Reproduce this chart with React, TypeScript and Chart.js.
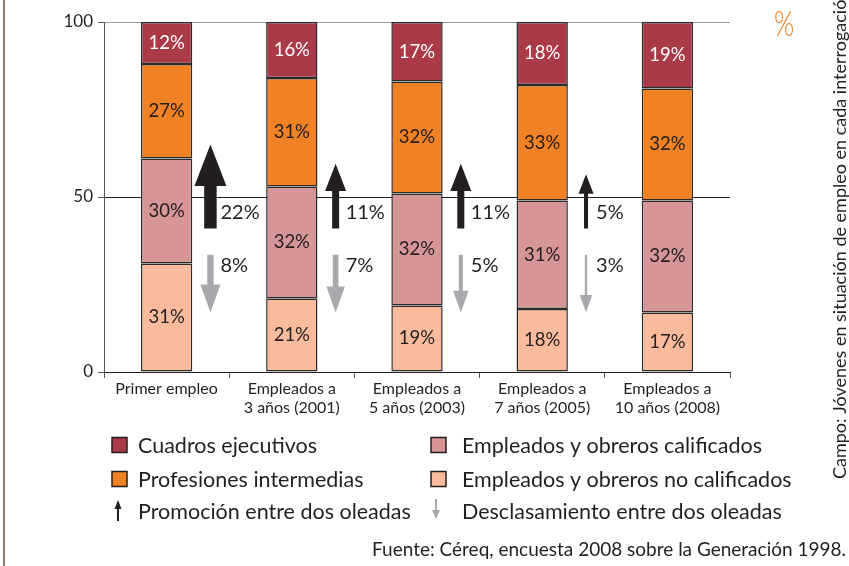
import React, { useEffect, useRef } from "react";
import { Chart, registerables } from "chart.js";

Chart.register(...registerables);

const FONT = "Lato, 'Noto Sans', sans-serif";

const categories: string[][] = [
  ["Primer empleo"],
  ["Empleados a", "3 años (2001)"],
  ["Empleados a", "5 años (2003)"],
  ["Empleados a", "7 años (2005)"],
  ["Empleados a", "10 años (2008)"],
];

const noCalificados = [31, 21, 19, 18, 17];
const calificados = [30, 32, 32, 31, 32];
const intermedias = [27, 31, 32, 33, 32];
const ejecutivos = [12, 16, 17, 18, 19];

const promocion = [22, 11, 11, 5];
const desclasamiento = [8, 7, 5, 3];

const yTicks = [0, 50, 100];

const seriesLabels = [
  "Empleados y obreros no calificados",
  "Empleados y obreros calificados",
  "Profesiones intermedias",
  "Cuadros ejecutivos",
];
const seriesColors = ["#f9bb9b", "#d69597", "#f08125", "#aa3a48"];
const labelColors = ["#231f20", "#231f20", "#231f20", "#ffffff"];

const promoLabel = "Promoción entre dos oleadas";
const desclLabel = "Desclasamiento entre dos oleadas";
const sourceText = "Fuente: Céreq, encuesta 2008 sobre la Generación 1998.";
const sideText = "Campo: Jóvenes en situación de empleo en cada interrogación";
const unitText = "%";

const UP_COLOR = "#231f20";
const DOWN_COLOR = "#a7a9ac";
const TEXT = "#231f20";

function upArrow(ctx: CanvasRenderingContext2D, cx: number, yBase: number, yTip: number, shaftW: number, headW: number, headL: number, color: string) {
  ctx.save();
  ctx.fillStyle = color;
  ctx.beginPath();
  ctx.moveTo(cx - shaftW / 2, yBase);
  ctx.lineTo(cx - shaftW / 2, yTip + headL);
  ctx.lineTo(cx - headW / 2, yTip + headL);
  ctx.lineTo(cx, yTip);
  ctx.lineTo(cx + headW / 2, yTip + headL);
  ctx.lineTo(cx + shaftW / 2, yTip + headL);
  ctx.lineTo(cx + shaftW / 2, yBase);
  ctx.closePath();
  ctx.fill();
  ctx.restore();
}

function downArrow(ctx: CanvasRenderingContext2D, cx: number, yTop: number, yTip: number, shaftW: number, headW: number, headL: number, color: string) {
  ctx.save();
  ctx.fillStyle = color;
  ctx.beginPath();
  ctx.moveTo(cx - shaftW / 2, yTop);
  ctx.lineTo(cx - shaftW / 2, yTip - headL);
  ctx.lineTo(cx - headW / 2, yTip - headL);
  ctx.lineTo(cx, yTip);
  ctx.lineTo(cx + headW / 2, yTip - headL);
  ctx.lineTo(cx + shaftW / 2, yTip - headL);
  ctx.lineTo(cx + shaftW / 2, yTop);
  ctx.closePath();
  ctx.fill();
  ctx.restore();
}

const decorPlugin = {
  id: "decor",
  beforeDraw(chart: any) {
    const ctx = chart.ctx as CanvasRenderingContext2D;
    ctx.save();
    ctx.fillStyle = "#ffffff";
    ctx.fillRect(0, 0, chart.width, chart.height);
    ctx.restore();
  },
  afterDatasetsDraw(chart: any) {
    const ctx = chart.ctx as CanvasRenderingContext2D;
    const xs = chart.scales.x;
    const ys = chart.scales.y;

    // segment labels
    chart.data.datasets.forEach((ds: any, di: number) => {
      const meta = chart.getDatasetMeta(di);
      meta.data.forEach((el: any, i: number) => {
        const p = el.getProps(["x", "y", "base"], true);
        ctx.save();
        ctx.font = `18.5px ${FONT}`;
        ctx.fillStyle = labelColors[di];
        ctx.textAlign = "center";
        ctx.textBaseline = "middle";
        ctx.fillText(ds.data[i] + "%", p.x, (p.y + p.base) / 2);
        ctx.restore();
      });
    });

    // promotion / declassing arrows between waves
    promocion.forEach((v, i) => {
      const cx = xs.getPixelForValue(i + 0.35);
      const yBase = ys.getPixelForValue(41);
      const yTip = ys.getPixelForValue(54 + v * 0.5);
      const shaftW = 1.5 + v * 0.5;
      const headW = 10 + v;
      upArrow(ctx, cx, yBase, yTip, shaftW, headW, headW * 1.3, UP_COLOR);
      ctx.save();
      ctx.font = `20px ${FONT}`;
      ctx.fillStyle = TEXT;
      ctx.textAlign = "left";
      ctx.textBaseline = "middle";
      ctx.fillText(v + "%", xs.getPixelForValue(i + 0.43), ys.getPixelForValue(45.5));
      ctx.restore();
    });
    desclasamiento.forEach((v, i) => {
      const cx = xs.getPixelForValue(i + 0.35);
      const yTop = ys.getPixelForValue(33.5);
      const yTip = ys.getPixelForValue(17);
      const shaftW = v * 0.8;
      const headW = 8 + v * 1.5;
      downArrow(ctx, cx, yTop, yTip, shaftW, headW, headW * 1.4, DOWN_COLOR);
      ctx.save();
      ctx.font = `20px ${FONT}`;
      ctx.fillStyle = TEXT;
      ctx.textAlign = "left";
      ctx.textBaseline = "middle";
      ctx.fillText(v + "%", xs.getPixelForValue(i + 0.43), ys.getPixelForValue(30.5));
      ctx.restore();
    });
  },
  afterDraw(chart: any) {
    const ctx = chart.ctx as CanvasRenderingContext2D;
    const H = chart.height;

    // left frame line
    ctx.save();
    ctx.fillStyle = "#8c7b70";
    ctx.fillRect(3, 0, 2, H);
    ctx.restore();

    // legend
    const rows = [445, 479, 511];
    const col1 = 112;
    const col2 = 431;
    const sq = 15;
    const items = [
      { col: col1, row: 0, color: seriesColors[3], label: seriesLabels[3], dx: 26 },
      { col: col2, row: 0, color: seriesColors[1], label: seriesLabels[1], dx: 31 },
      { col: col1, row: 1, color: seriesColors[2], label: seriesLabels[2], dx: 26 },
      { col: col2, row: 1, color: seriesColors[0], label: seriesLabels[0], dx: 31 },
    ];
    ctx.save();
    ctx.font = `21.5px ${FONT}`;
    ctx.textBaseline = "middle";
    ctx.textAlign = "left";
    items.forEach((it) => {
      const cy = rows[it.row];
      ctx.fillStyle = it.color;
      ctx.fillRect(it.col, cy - sq / 2, sq, sq);
      ctx.strokeStyle = TEXT;
      ctx.lineWidth = 1.5;
      ctx.strokeRect(it.col, cy - sq / 2, sq, sq);
      ctx.fillStyle = TEXT;
      ctx.fillText(it.label, it.col + it.dx, cy + 1);
    });
    // arrow legend entries
    upArrow(ctx, col1 + 6, rows[2] + 10, rows[2] - 11, 2, 7, 9, UP_COLOR);
    downArrow(ctx, col2 + 5, rows[2] - 12, rows[2] + 8, 2, 8, 9, DOWN_COLOR);
    ctx.fillStyle = TEXT;
    ctx.fillText(promoLabel, col1 + 26, rows[2] + 1);
    ctx.fillText(desclLabel, col2 + 31, rows[2] + 1);

    // source
    ctx.font = `19px ${FONT}`;
    ctx.textAlign = "right";
    ctx.fillText(sourceText, 846, 550);

    // unit (tall, narrow percent sign)
    ctx.save();
    ctx.translate(784, 24);
    ctx.scale(0.72, 1);
    ctx.font = `300 36px ${FONT}`;
    ctx.fillStyle = "#f08125";
    ctx.textAlign = "center";
    ctx.textBaseline = "middle";
    ctx.fillText(unitText, 0, 0);
    ctx.restore();

    // side text
    ctx.translate(840, 479);
    ctx.rotate(-Math.PI / 2);
    ctx.font = `18px ${FONT}`;
    ctx.fillStyle = TEXT;
    ctx.textAlign = "left";
    ctx.textBaseline = "middle";
    ctx.fillText(sideText, 0, 0);
    ctx.restore();
  },
};

export default function App() {
  const ref = useRef<HTMLCanvasElement | null>(null);

  useEffect(() => {
    document.body.style.margin = "0";
    const canvas = ref.current;
    if (!canvas) return;
    const datasets = [noCalificados, calificados, intermedias, ejecutivos].map((d, i) => ({
      label: seriesLabels[i],
      data: d,
      backgroundColor: seriesColors[i],
      borderColor: "#2b2b2b",
      borderWidth: 1.5,
      borderSkipped: false,
      categoryPercentage: 1,
      barPercentage: 0.41,
    }));
    const chart = new Chart(canvas, {
      type: "bar",
      data: { labels: categories as any, datasets: datasets as any },
      options: {
        responsive: false,
        animation: false,
        layout: { padding: { top: 22, right: 119, left: 0, bottom: 0 } },
        plugins: { legend: { display: false }, tooltip: { enabled: false }, title: { display: false } },
        scales: {
          x: {
            stacked: true,
            afterFit: (s: any) => { s.height = 194; },
            grid: { display: true, drawOnChartArea: false, drawTicks: true, tickLength: 6, color: "#555", offset: true },
            border: { display: true, color: TEXT, width: 1 },
            ticks: { color: TEXT, font: { family: FONT, size: 16, lineHeight: 1.2 }, padding: 1, maxRotation: 0, autoSkip: false },
          },
          y: {
            stacked: true,
            min: yTicks[0],
            max: yTicks[yTicks.length - 1],
            afterFit: (s: any) => { s.width = 104; },
            afterBuildTicks: (s: any) => { s.ticks = yTicks.map((v) => ({ value: v })); },
            grid: {
              color: (c: any) => (c.tick && c.tick.value === 100 ? "#9a9a9a" : TEXT),
              tickColor: "#555",
              tickLength: 6,
              lineWidth: 1,
            },
            border: { display: true, color: "#555", width: 1 },
            ticks: { color: TEXT, font: { family: FONT, size: 17 }, padding: 5 },
          },
        },
      },
      plugins: [decorPlugin],
    });
    return () => chart.destroy();
  }, []);

  return (
    <div style={{ position: "relative", width: 849, height: 566 }}>
      <canvas ref={ref} width={849} height={566} style={{ display: "block" }} />
    </div>
  );
}
